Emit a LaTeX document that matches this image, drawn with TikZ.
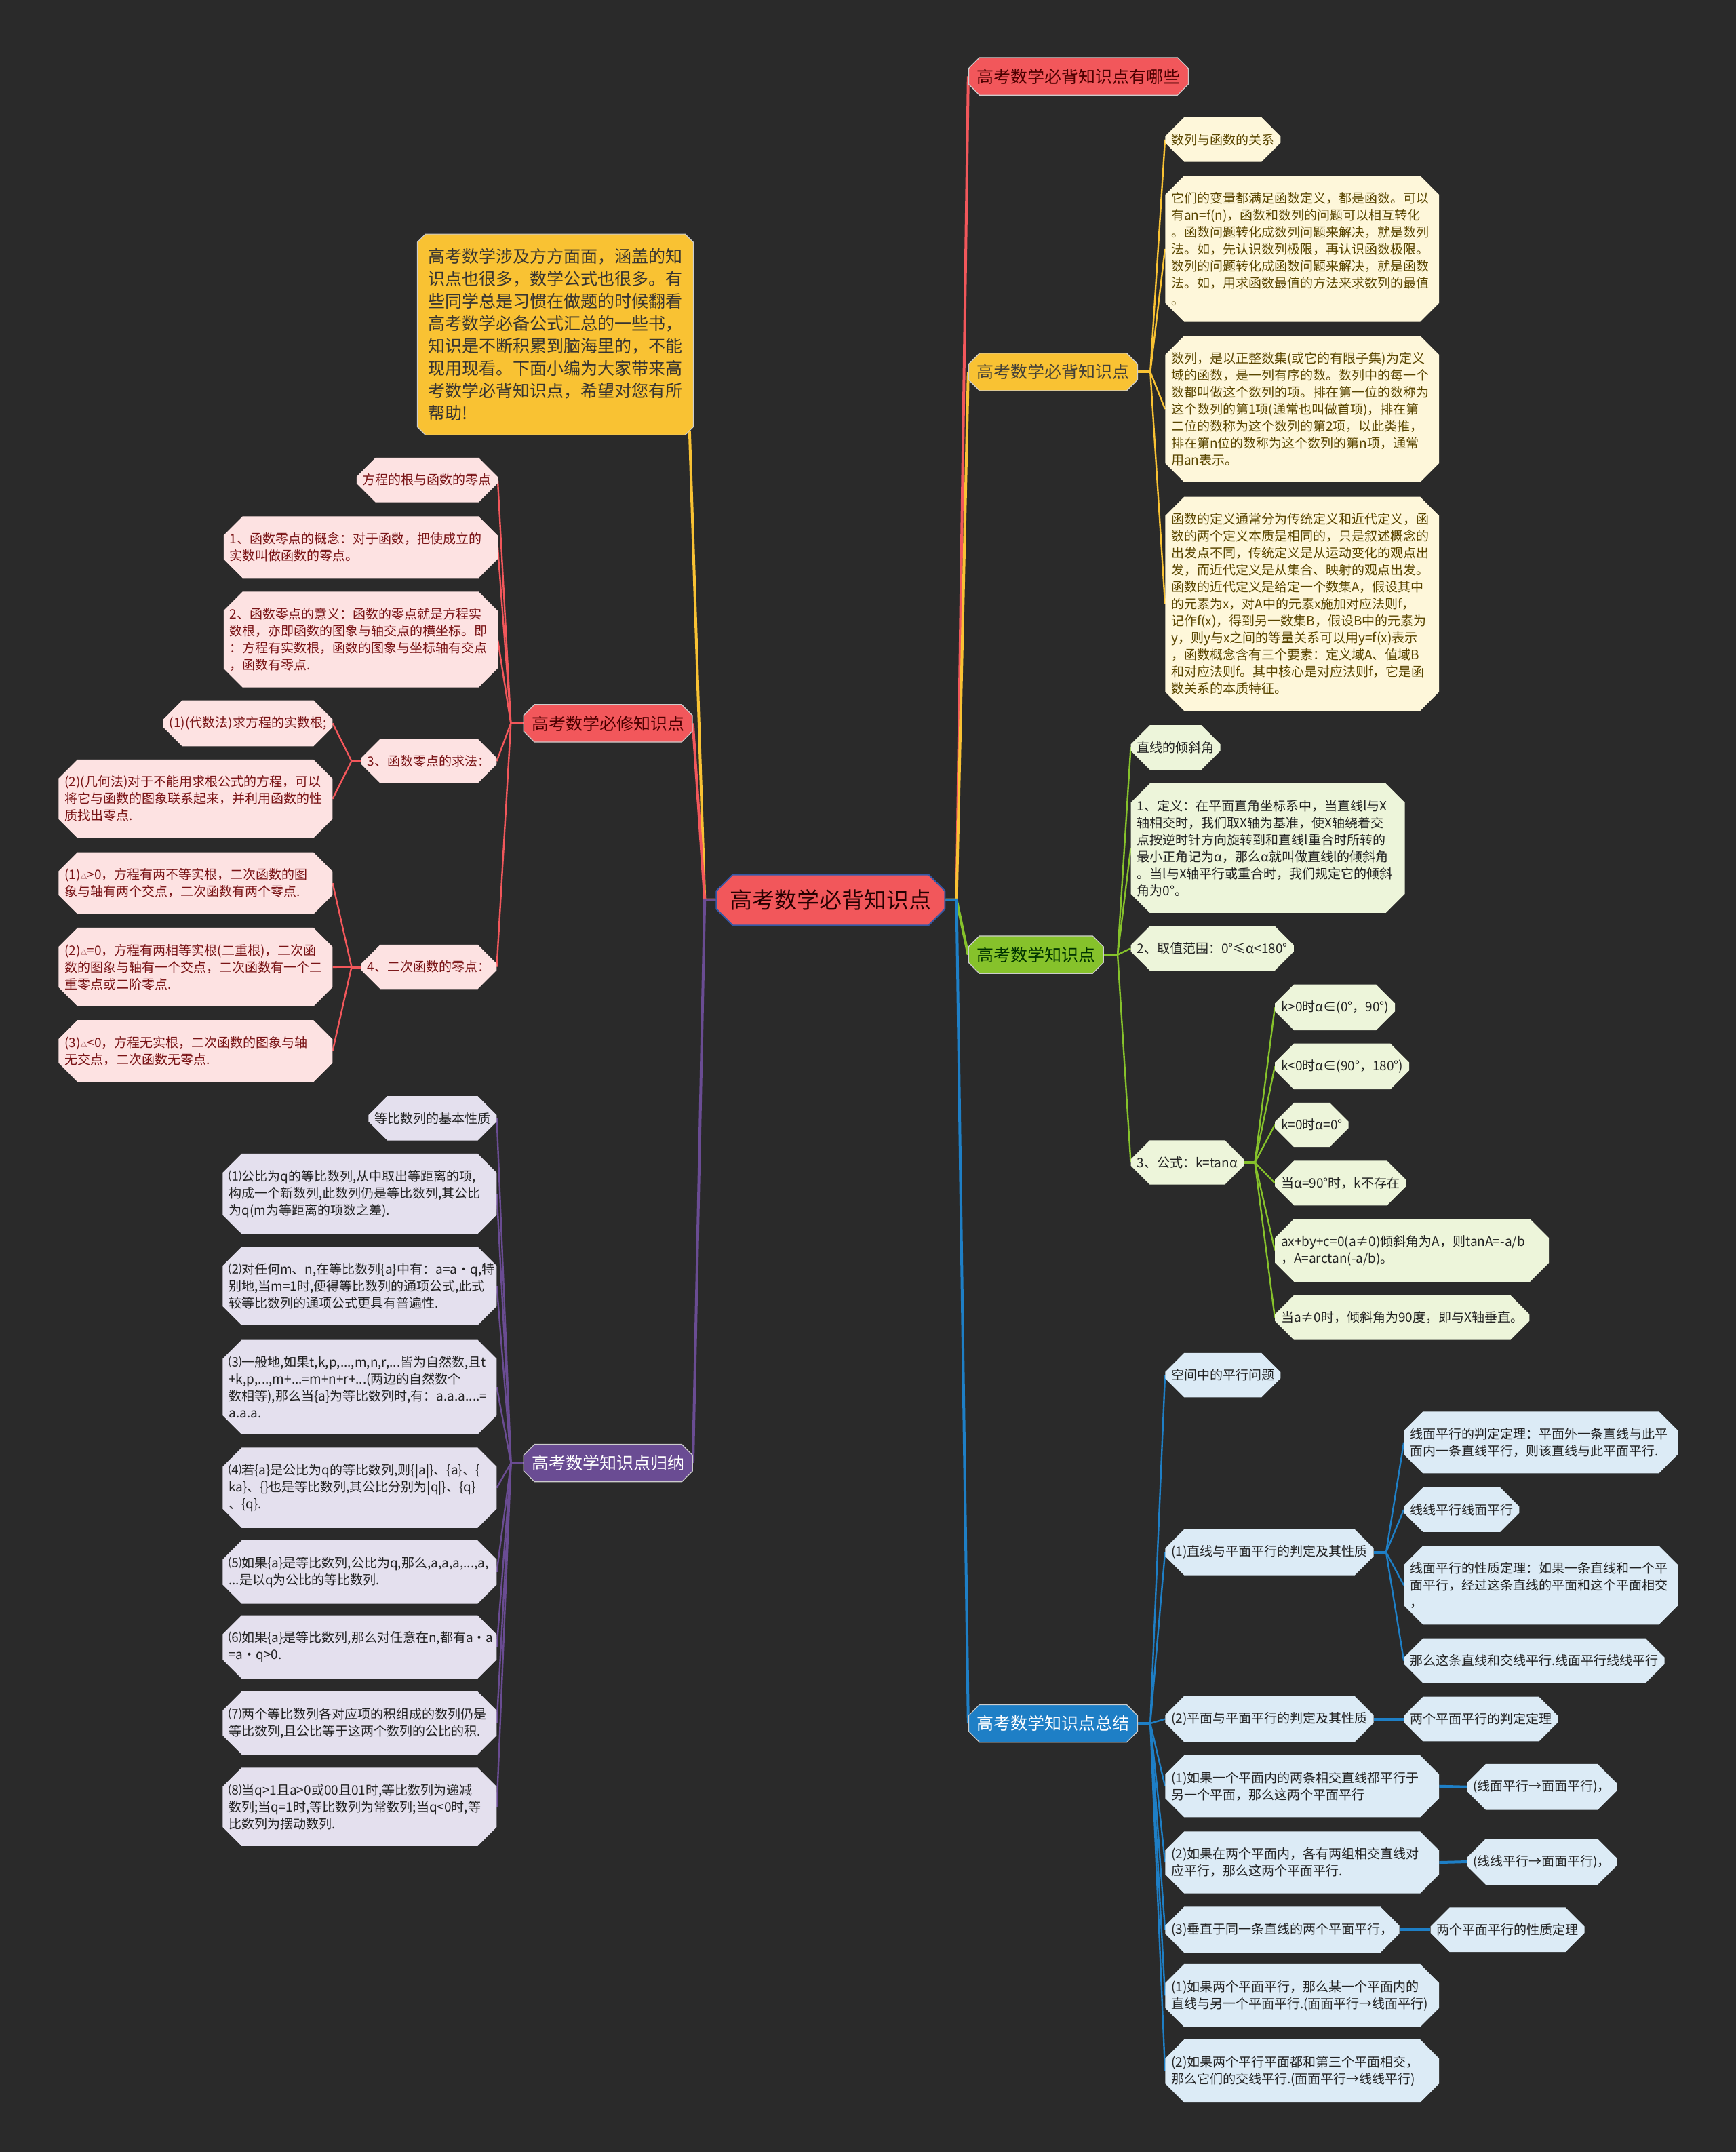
\documentclass[tikz,border=0pt]{standalone}
\usepackage{fontspec}
\setmainfont{Noto Sans CJK SC}
\usepackage{xcolor}
\usepackage{tikz}
\usetikzlibrary{shapes.misc,calc}
\pgfdeclarelayer{canvas}
\pgfdeclarelayer{links}
\pgfsetlayers{canvas,links,main}
\definecolor{bgdark}{HTML}{2A2A2A}
\definecolor{cred}{HTML}{F2575B}
\definecolor{cyellow}{HTML}{F9C233}
\definecolor{cgreen}{HTML}{86C22B}
\definecolor{cblue}{HTML}{1E7FC6}
\definecolor{cpurple}{HTML}{6A4C93}
\definecolor{rootedge}{HTML}{3558A5}
\definecolor{yfill}{HTML}{FEF7DA}
\definecolor{gfill}{HTML}{EDF5DA}
\definecolor{bfill}{HTML}{DCEBF6}
\definecolor{rfill}{HTML}{FDE2E2}
\definecolor{pfill}{HTML}{E4E0EE}
\definecolor{ytxt}{HTML}{5A4600}
\definecolor{rtxt}{HTML}{7A1416}
\definecolor{darktxt}{HTML}{222222}
\newcommand{\smalltri}{{\fontsize{10}{10}\selectfont △}}

\begin{document}
\begin{tikzpicture}[
    x=2.0237pt, y=-2.0237pt,
    rootbox/.style={chamfered rectangle, chamfered rectangle xsep=12pt, chamfered rectangle ysep=12pt,
        fill=cred, draw=rootedge, line width=2pt, text=black!85!red, font=\fontsize{33}{38}\selectfont,
        inner xsep=8pt, inner ysep=10pt},
    mainbox/.style={chamfered rectangle, chamfered rectangle xsep=8pt, chamfered rectangle ysep=8pt,
        draw=white!80!black, line width=1.2pt, font=\fontsize{25}{29}\selectfont, inner xsep=4pt, inner ysep=8pt},
    introbox/.style={mainbox, fill=cyellow, text=black!90!yellow, align=left, font=\fontsize{25}{33}\selectfont,
        chamfered rectangle xsep=6pt, chamfered rectangle ysep=6pt, inner xsep=10pt, inner ysep=15pt},
    leaf/.style={chamfered rectangle, chamfered rectangle xsep=8pt, chamfered rectangle ysep=20pt,
        font=\fontsize{19}{25}\selectfont, align=left, inner xsep=1pt, inner ysep=4pt, minimum height=42pt},
    para/.style={text width=386pt},
    yleaf/.style={leaf, fill=yfill, text=ytxt},
    gleaf/.style={leaf, fill=gfill, text=darktxt},
    bleaf/.style={leaf, fill=bfill, text=darktxt},
    rleaf/.style={leaf, fill=rfill, text=rtxt},
    pleaf/.style={leaf, fill=pfill, text=darktxt},
    trunk/.style={line width=4pt},
    branch/.style={line width=2.4pt}
]
\begin{pgfonlayer}{canvas}
\fill[bgdark] (0,0) rectangle (1265,1568);
\end{pgfonlayer}

% centre
\node[rootbox] (root) at (605.3,655.7) {高考数学必背知识点};

% first level, right
\node[mainbox, fill=cred, text=black!70!red, anchor=west] (topq) at (705.6,55.6) {高考数学必背知识点有哪些};
\node[mainbox, fill=cyellow, text=black!85!yellow, anchor=west] (ymain) at (705.6,271) {高考数学必背知识点};
\node[mainbox, fill=cgreen, text=black!80!green, anchor=west] (gmain) at (705.5,695.6) {高考数学知识点};
\node[mainbox, fill=cblue, text=white, anchor=west] (bmain) at (705.6,1255.7) {高考数学知识点总结};

% first level, left
\node[introbox, anchor=north east] (intro) at (502.5,173.3) {高考数学涉及方方面面，涵盖的知\\识点也很多，数学公式也很多。有\\些同学总是习惯在做题的时候翻看\\高考数学必备公式汇总的一些书，\\知识是不断积累到脑海里的，不能\\现用现看。下面小编为大家带来高\\考数学必背知识点，希望对您有所\\帮助!};
\node[mainbox, fill=cred, text=black!70!red, anchor=east] (rmain) at (504.9,527) {高考数学必修知识点};
\node[mainbox, fill=cpurple, text=white, anchor=east] (pmain) at (505,1066) {高考数学知识点归纳};

% yellow leaves
\node[yleaf, anchor=west] (y1) at (849,101.7) {数列与函数的关系};
\node[yleaf, para, anchor=west] (y2) at (849,181.3) {它们的变量都满足函数定义，都是函数。可以\\有an=f(n)，函数和数列的问题可以相互转化\\。函数问题转化成数列问题来解决，就是数列\\法。如，先认识数列极限，再认识函数极限。\\数列的问题转化成函数问题来解决，就是函数\\法。如，用求函数最值的方法来求数列的最值\\。};
\node[yleaf, para, anchor=west] (y3) at (849,298) {数列，是以正整数集(或它的有限子集)为定义\\域的函数，是一列有序的数。数列中的每一个\\数都叫做这个数列的项。排在第一位的数称为\\这个数列的第1项(通常也叫做首项)，排在第\\二位的数称为这个数列的第2项，以此类推，\\排在第n位的数称为这个数列的第n项，通常\\用an表示。};
\node[yleaf, para, anchor=west] (y4) at (849,440) {函数的定义通常分为传统定义和近代定义，函\\数的两个定义本质是相同的，只是叙述概念的\\出发点不同，传统定义是从运动变化的观点出\\发，而近代定义是从集合、映射的观点出发。\\函数的近代定义是给定一个数集A，假设其中\\的元素为x，对A中的元素x施加对应法则f，\\记作f(x)，得到另一数集B，假设B中的元素为\\y，则y与x之间的等量关系可以用y=f(x)表示\\，函数概念含有三个要素：定义域A、值域B\\和对应法则f。其中核心是对应法则f，它是函\\数关系的本质特征。};

% green leaves
\node[gleaf, anchor=west] (g1) at (824,544.6) {直线的倾斜角};
\node[gleaf, para, anchor=west] (g2) at (824,618) {1、定义：在平面直角坐标系中，当直线l与X\\轴相交时，我们取X轴为基准，使X轴绕着交\\点按逆时针方向旋转到和直线l重合时所转的\\最小正角记为α，那么α就叫做直线l的倾斜角\\。当l与X轴平行或重合时，我们规定它的倾斜\\角为0°。};
\node[gleaf, anchor=west] (g3) at (824,691) {2、取值范围：0°≤α<180°};
\node[gleaf, anchor=west] (g4) at (824,847) {3、公式：k=tanα};
\node[gleaf, anchor=west] (g41) at (929,734) {k>0时α∈(0°，90°)};
\node[gleaf, anchor=west] (g42) at (929,777) {k<0时α∈(90°，180°)};
\node[gleaf, anchor=west] (g43) at (929,819.6) {k=0时α=0°};
\node[gleaf, anchor=west] (g44) at (929,862) {当α=90°时，k不存在};
\node[gleaf, para, anchor=west] (g45) at (929,911) {ax+by+c=0(a≠0)倾斜角为A，则tanA=-a/b\\，A=arctan(-a/b)。};
\node[gleaf, anchor=west] (g46) at (929,960) {当a≠0时，倾斜角为90度，即与X轴垂直。};

% blue leaves
\node[bleaf, anchor=west] (b1) at (849,1002) {空间中的平行问题};
\node[bleaf, anchor=west] (b2) at (849,1131) {(1)直线与平面平行的判定及其性质};
\node[bleaf, para, anchor=west] (b21) at (1023,1051) {线面平行的判定定理：平面外一条直线与此平\\面内一条直线平行，则该直线与此平面平行.};
\node[bleaf, anchor=west] (b22) at (1023,1100) {线线平行线面平行};
\node[bleaf, para, anchor=west] (b23) at (1023,1155) {线面平行的性质定理：如果一条直线和一个平\\面平行，经过这条直线的平面和这个平面相交\\，};
\node[bleaf, anchor=west] (b24) at (1023,1210) {那么这条直线和交线平行.线面平行线线平行};
\node[bleaf, anchor=west] (b3) at (849,1252.5) {(2)平面与平面平行的判定及其性质};
\node[bleaf, anchor=west] (b31) at (1023,1252.5) {两个平面平行的判定定理};
\node[bleaf, para, anchor=west] (b4) at (849,1301.5) {(1)如果一个平面内的两条相交直线都平行于\\另一个平面，那么这两个平面平行};
\node[bleaf, anchor=west] (b41) at (1068.8,1302) {(线面平行→面面平行)，};
\node[bleaf, para, anchor=west] (b5) at (849,1357) {(2)如果在两个平面内，各有两组相交直线对\\应平行，那么这两个平面平行.};
\node[bleaf, anchor=west] (b51) at (1068.8,1356.5) {(线线平行→面面平行)，};
\node[bleaf, anchor=west] (b6) at (849,1406) {(3)垂直于同一条直线的两个平面平行，};
\node[bleaf, anchor=west] (b61) at (1042.4,1406) {两个平面平行的性质定理};
\node[bleaf, para, anchor=west] (b7) at (849,1454) {(1)如果两个平面平行，那么某一个平面内的\\直线与另一个平面平行.(面面平行→线面平行)};
\node[bleaf, para, anchor=west] (b8) at (849,1509) {(2)如果两个平行平面都和第三个平面相交，\\那么它们的交线平行.(面面平行→线线平行)};

% red leaves
\node[rleaf, anchor=east] (r1) at (362.7,349.7) {方程的根与函数的零点};
\node[rleaf, para, anchor=east] (r2) at (362.7,398.7) {1、函数零点的概念：对于函数，把使成立的\\实数叫做函数的零点。};
\node[rleaf, para, anchor=east] (r3) at (362.7,466) {2、函数零点的意义：函数的零点就是方程实\\数根，亦即函数的图象与轴交点的横坐标。即\\：方程有实数根，函数的图象与坐标轴有交点\\，函数有零点.};
\node[rleaf, anchor=east] (r4) at (362,554.5) {3、函数零点的求法：};
\node[rleaf, anchor=east] (r41) at (242.4,527) {(1)(代数法)求方程的实数根;};
\node[rleaf, para, anchor=east] (r42) at (242.4,582) {(2)(几何法)对于不能用求根公式的方程，可以\\将它与函数的图象联系起来，并利用函数的性\\质找出零点.};
\node[rleaf, anchor=east] (r5) at (362,704.5) {4、二次函数的零点：};
\node[rleaf, para, anchor=east] (r51) at (242.4,643.5) {(1)\smalltri>0，方程有两不等实根，二次函数的图\\象与轴有两个交点，二次函数有两个零点.};
\node[rleaf, para, anchor=east] (r52) at (242.4,704.6) {(2)\smalltri=0，方程有两相等实根(二重根)，二次函\\数的图象与轴有一个交点，二次函数有一个二\\重零点或二阶零点.};
\node[rleaf, para, anchor=east] (r53) at (242.4,765.8) {(3)\smalltri<0，方程无实根，二次函数的图象与轴\\无交点，二次函数无零点.};

% purple leaves
\node[pleaf, anchor=east] (p1) at (362,814.8) {等比数列的基本性质};
\node[pleaf, para, anchor=east] (p2) at (362,869.8) {⑴公比为q的等比数列,从中取出等距离的项,\\构成一个新数列,此数列仍是等比数列,其公比\\为q(m为等距离的项数之差).};
\node[pleaf, para, anchor=east] (p3) at (362,937) {⑵对任何m、n,在等比数列\{a\}中有：a=a·q,特\\别地,当m=1时,便得等比数列的通项公式,此式\\较等比数列的通项公式更具有普遍性.};
\node[pleaf, para, anchor=east] (p4) at (362,1010.7) {⑶一般地,如果t,k,p,...,m,n,r,...皆为自然数,且t\\+k,p,...,m+...=m+n+r+...(两边的自然数个\\数相等),那么当\{a\}为等比数列时,有：a.a.a....=\\a.a.a.};
\node[pleaf, para, anchor=east] (p5) at (362,1084) {⑷若\{a\}是公比为q的等比数列,则\{|a|\}、\{a\}、\{\\ka\}、\{\}也是等比数列,其公比分别为|q|\}、\{q\}\\、\{q\}.};
\node[pleaf, para, anchor=east] (p6) at (362,1145.4) {⑸如果\{a\}是等比数列,公比为q,那么,a,a,a,...,a,\\...是以q为公比的等比数列.};
\node[pleaf, para, anchor=east] (p7) at (362,1200) {⑹如果\{a\}是等比数列,那么对任意在n,都有a·a\\=a·q>0.};
\node[pleaf, para, anchor=east] (p8) at (362,1255.4) {⑺两个等比数列各对应项的积组成的数列仍是\\等比数列,且公比等于这两个数列的公比的积.};
\node[pleaf, para, anchor=east] (p9) at (362,1316.5) {⑻当q>1且a>0或00且01时,等比数列为递减\\数列;当q=1时,等比数列为常数列;当q<0时,等\\比数列为摆动数列.};

% junctions
\coordinate (rootR) at ($(root.east)+(8,0)$);
\coordinate (rootL) at ($(root.west)+(-8,0)$);
\coordinate (yj) at ($(ymain.east)+(9,0)$);
\coordinate (gj) at ($(gmain.east)+(10,0)$);
\coordinate (g4j) at ($(g4.east)+(8,0)$);
\coordinate (bj) at ($(bmain.east)+(9,0)$);
\coordinate (b2j) at ($(b2.east)+(9,0)$);
\coordinate (rj) at ($(rmain.west)+(-9,0)$);
\coordinate (r4j) at ($(r4.west)+(-7,0)$);
\coordinate (r5j) at ($(r5.west)+(-7,0)$);
\coordinate (pj) at ($(pmain.west)+(-9,0)$);

\begin{pgfonlayer}{links}
% connectors from the centre
\draw[trunk, cyellow] (root.west) -- (rootL) -- (intro.south east);
\draw[trunk, cred] (root.west) -- (rootL) -- (rmain.east);
\draw[trunk, cpurple] (root.west) -- (rootL) -- (pmain.east);
\draw[trunk, cred] (root.east) -- (rootR) -- (topq.west);
\draw[trunk, cyellow] (root.east) -- (rootR) -- (ymain.west);
\draw[trunk, cgreen] (root.east) -- (rootR) -- (gmain.west);
\draw[trunk, cblue] (root.east) -- (rootR) -- (bmain.west);

% connectors to leaves
\draw[branch, cyellow, line width=4pt] (ymain.east) -- (yj);
\foreach \n in {y1,y2,y3,y4} \draw[branch, cyellow] (yj) -- (\n.west);
\draw[branch, cgreen, line width=4pt] (gmain.east) -- (gj);
\foreach \n in {g1,g2,g3,g4} \draw[branch, cgreen] (gj) -- (\n.west);
\draw[branch, cgreen, line width=4pt] (g4.east) -- (g4j);
\foreach \n in {g41,g42,g43,g44,g45,g46} \draw[branch, cgreen] (g4j) -- (\n.west);
\draw[branch, cblue, line width=4pt] (bmain.east) -- (bj);
\foreach \n in {b1,b2,b3,b4,b5,b6,b7,b8} \draw[branch, cblue] (bj) -- (\n.west);
\draw[branch, cblue, line width=4pt] (b2.east) -- (b2j);
\foreach \n in {b21,b22,b23,b24} \draw[branch, cblue] (b2j) -- (\n.west);
\draw[branch, cblue, line width=4pt] (b3.east) -- (b31.west);
\draw[branch, cblue, line width=4pt] (b4.east) -- (b41.west);
\draw[branch, cblue, line width=4pt] (b5.east) -- (b51.west);
\draw[branch, cblue, line width=4pt] (b6.east) -- (b61.west);
\draw[branch, cred, line width=4pt] (rmain.west) -- (rj);
\foreach \n in {r1,r2,r3,r4,r5} \draw[branch, cred] (rj) -- (\n.east);
\draw[branch, cred, line width=4pt] (r4.west) -- (r4j);
\foreach \n in {r41,r42} \draw[branch, cred] (r4j) -- (\n.east);
\draw[branch, cred, line width=4pt] (r5.west) -- (r5j);
\foreach \n in {r51,r52,r53} \draw[branch, cred] (r5j) -- (\n.east);
\draw[branch, cpurple, line width=4pt] (pmain.west) -- (pj);
\foreach \n in {p1,p2,p3,p4,p5,p6,p7,p8,p9} \draw[branch, cpurple] (pj) -- (\n.east);
\end{pgfonlayer}
\end{tikzpicture}
\end{document}
